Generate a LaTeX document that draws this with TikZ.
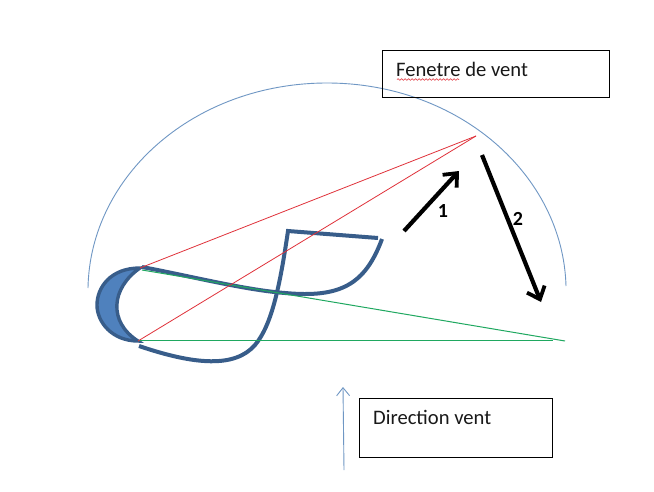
\documentclass[tikz,border=0pt]{standalone}
\usepackage{fontspec}
\setmainfont{Carlito}
\usetikzlibrary{arrows.meta,decorations.pathmorphing}
\definecolor{sailblue}{HTML}{385D8A}
\definecolor{fillblue}{HTML}{4F81BD}
\definecolor{thinblue}{HTML}{6F97C4}
\definecolor{redline}{HTML}{E0313A}
\definecolor{greenline}{HTML}{1FA860}
\tikzset{
 boxtext/.style={anchor=base west,inner sep=0pt,font=\fontsize{20.6}{24}\selectfont,text=black!90},
 sailline/.style={draw=sailblue,line width=4pt,line join=miter},
 redray/.style={draw=redline,line width=0.8pt},
 greenray/.style={draw=greenline,line width=1pt},
 movearrow/.style={draw=black,line width=4.2pt,-{Straight Barb[length=11pt,width=19pt,line width=3.8pt]}},
 numlabel/.style={font=\bfseries\fontsize{20}{24}\selectfont,inner sep=0pt,text=black},
}
\begin{document}
\begin{tikzpicture}[x=1pt,y=-1pt]
\useasboundingbox[fill=white] (0,0) rectangle (654,491);
% window arc
\draw[draw=thinblue,line width=0.9pt] (88,288) .. controls (90,175) and (195,83) .. (327,83) .. controls (459,83) and (563,175) .. (566,286);
% kite
\coordinate (kitetop) at (140,268);
\coordinate (kitebot) at (138,341);
\draw[sailline,fill=fillblue,line width=3.4pt] (kitetop) .. controls (110,268) and (97,288) .. (97,305) .. controls (97,322) and (112,341) .. (kitebot) .. controls (108,322) and (111,288) .. (kitetop) -- cycle;
% sail lines
\draw[sailline] (142,267) .. controls (190,276) and (245,290) .. (285,293) .. controls (340,298) and (365,285) .. (382,239);
\draw[sailline] (378,238) -- (288,231) .. controls (280,285) and (272,325) .. (255,345) .. controls (235,368) and (195,365) .. (139,346);
% rays
\coordinate (apex) at (476,136);
\coordinate (gfar) at (565,341);
\coordinate (gnear) at (553,340.6);
\coordinate (gtop) at (142,270);
\coordinate (gbot) at (138,340.6);
\draw[greenray] (gtop) -- (gfar);
\draw[greenray] (gbot) -- (gnear);
\draw[redray] (kitetop) -- (apex);
\draw[redray] (kitebot) -- (apex);
% arrows
\coordinate (aonestart) at (404,231);
\coordinate (aoneend) at (459,171);
\coordinate (atwostart) at (482,155);
\coordinate (atwoend) at (541,302);
\draw[movearrow] (aonestart) -- (aoneend);
\draw[movearrow] (atwostart) -- (atwoend);
\node[numlabel] (n1) at (443,211) {1};
\node[numlabel] (n2) at (518,219) {2};
% wind arrow
\coordinate (wstart) at (344,470);
\coordinate (wend) at (343,387);
\draw[draw=thinblue,line width=0.9pt,-{Straight Barb[length=8pt,width=13pt,line width=0.9pt]}] (wstart) -- (wend);
% boxes
\draw[line width=1pt,draw=black] (382.5,50.5) rectangle (609.5,97);
\node[boxtext] (fen) at (396,76) {Fenetre de vent};
\draw[redline,line width=0.6pt,decorate,decoration={snake,amplitude=0.8pt,segment length=3.5pt}] (397,79.5) -- (459,79.5);
\draw[line width=1pt,draw=black] (359,398) rectangle (552,457);
\node[boxtext] (dir) at (373,424) {Direction vent};
\end{tikzpicture}
\end{document}
